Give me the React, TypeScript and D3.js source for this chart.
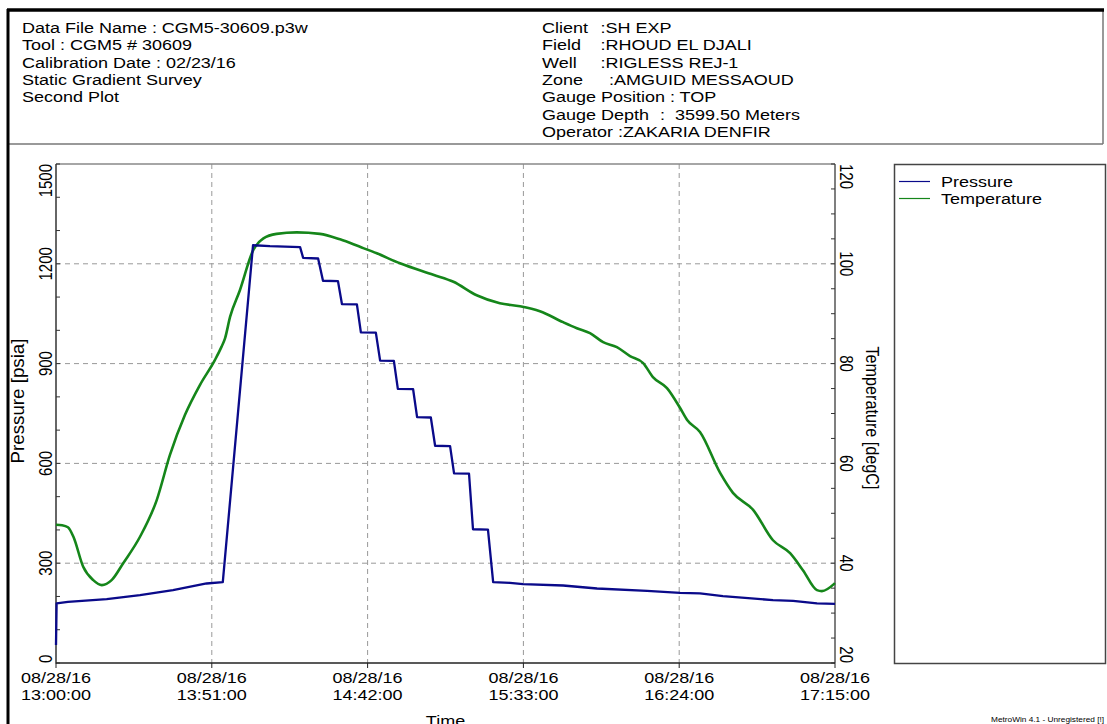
import React from "react";
import * as d3 from "d3";

// ---- Data (minutes after 08/28/16 13:00:00) ----
const pressureMinutes = [0, 0.2, 3.9, 16.6, 27.5, 38.3, 49.3, 54.6, 64.5, 70, 79.9, 80.9, 85.8, 87.4, 92.3, 93.6, 98.5, 99.8, 104.7, 106.1, 110.6, 111.9, 116.9, 118.2, 122.7, 124.1, 129, 130.3, 135.2, 136.5, 141.4, 143.1, 148.6, 152.9, 166, 177.1, 193.5, 204.3, 210.8, 218.3, 234.7, 241.3, 249.1, 255];
const pressureValues = [54, 179, 184, 192, 204, 219, 239, 243, 1256, 1253, 1250, 1218, 1216, 1149, 1148, 1079, 1078, 994, 993, 909, 908, 824, 823, 739, 738, 653, 652, 570, 569, 402, 401, 243, 241, 237, 233, 224, 217, 211, 209, 201, 189, 187, 179, 178];

const temperatureMinutes = [0, 2, 3.9, 5.7, 8.9, 12.2, 15.0, 18.2, 22.0, 27.5, 33.0, 37.3, 42.2, 47.1, 52.0, 54.2, 55.3, 57.0, 60.2, 64.6, 67.9, 72.2, 78.8, 86.4, 93.0, 99.5, 105.0, 112.6, 123.5, 130.1, 137.7, 145.3, 151.9, 158.4, 166, 170.5, 174.8, 179.1, 183.6, 187.9, 192.2, 195.4, 200, 204.3, 206.6, 210.8, 217.4, 221.6, 228.2, 234.7, 240.3, 244.5, 249.1, 250.7, 255];
const temperatureValues = [47.7, 47.6, 47.2, 45.3, 39.3, 36.6, 35.6, 36.6, 40, 45.3, 52.7, 61.7, 69.7, 75.7, 80.7, 83.4, 85.0, 89.4, 94.7, 102.8, 105.1, 106, 106.3, 106, 104.9, 103.4, 102.1, 100.1, 97.8, 96.4, 93.7, 92.1, 91.5, 90.5, 88.3, 87.1, 86.1, 84.3, 83.3, 81.5, 80.1, 77.3, 75.1, 71.1, 68.7, 66.3, 58.1, 54.1, 50.7, 44.6, 42, 38.6, 34.6, 34.4, 36];

const timeTickMinutes = [0, 51, 102, 153, 204, 255];
const timeTickDate = "08/28/16";
const timeTickLabels = ["13:00:00", "13:51:00", "14:42:00", "15:33:00", "16:24:00", "17:15:00"];
const pressureTicks = [0, 300, 600, 900, 1200, 1500];
const temperatureTicks = [20, 40, 60, 80, 100, 120];

const headerLeft = ["Data File Name : CGM5-30609.p3w", "Tool : CGM5 # 30609", "Calibration Date : 02/23/16", "Static Gradient Survey", "Second Plot"];
const headerRightLabels = ["Client", "Field", "Well", "Zone", "Gauge Position : TOP", "Gauge Depth", "Operator :ZAKARIA DENFIR"];
const headerRightValues = [":SH EXP", ":RHOUD EL DJALI", ":RIGLESS REJ-1", ":AMGUID MESSAOUD", "", ":  3599.50 Meters", ""];
const headerRightValueX = [600.5, 600.5, 600.5, 609, 0, 660, 0];

const seriesNames = ["Pressure", "Temperature"];
const seriesColors = ["#0a0a8a", "#15861a"];

const T0 = new Date(2016, 7, 28, 13, 0, 0).getTime();
const toDate = (m: number) => new Date(T0 + m * 60000);

const FONT = "'Liberation Sans', Arial, sans-serif";
const SX = 1.2;

function T(props: { x: number; y: number; rot?: number; anchor?: string; size?: number; children: any; fill?: string; sy?: number }) {
  const { x, y, rot = 0, anchor = "start", size = 15, children, fill = "#000", sy = 1 } = props;
  return (
    <g transform={`translate(${x},${y}) scale(${SX},${sy}) rotate(${rot})`}>
      <text textAnchor={anchor as any} fontSize={size} fontFamily={FONT} fill={fill} style={{ whiteSpace: "pre" }}>
        {children}
      </text>
    </g>
  );
}

export default function App() {
  const L = 56, R = 835, TOP = 164, B = 663;
  const x = d3.scaleTime().domain([toDate(0), toDate(255)]).range([L, R]);
  const yP = d3.scaleLinear().domain([0, 1500]).range([B, TOP]);
  const yT = d3.scaleLinear().domain([20, 120]).range([B, TOP]);

  const pData = pressureMinutes.map((m, i) => [toDate(m), pressureValues[i]] as [Date, number]);
  const tData = temperatureMinutes.map((m, i) => [toDate(m), temperatureValues[i]] as [Date, number]);

  const pLine = d3.line<[Date, number]>().x((d) => x(d[0])).y((d) => yP(d[1]));
  const tLine = d3.line<[Date, number]>().x((d) => x(d[0])).y((d) => yT(d[1])).curve(d3.curveMonotoneX);

  const minorP = d3.range(0, 1501, 100);
  const minorT = d3.range(20, 121, 5);

  return (
    <svg width={1107} height={724} style={{ position: "absolute", left: 0, top: 0, background: "#fff" }}>
      {/* frame */}
      <line x1={1103} y1={10} x2={1103} y2={144} stroke="#777" strokeWidth={1.5} />
      <line x1={8} y1={144} x2={1103} y2={144} stroke="#777" strokeWidth={1.5} />
      <line x1={7} y1={10} x2={1104} y2={10} stroke="#000" strokeWidth={3.5} />
      <line x1={8} y1={9} x2={8} y2={724} stroke="#000" strokeWidth={3} />

      {/* header */}
      {headerLeft.map((s, i) => (
        <T key={"hl" + i} x={22} y={33 + i * 17.3}>{s}</T>
      ))}
      {headerRightLabels.map((s, i) => (
        <T key={"hr" + i} x={542} y={33 + i * 17.3}>{s}</T>
      ))}
      {headerRightValues.map((s, i) =>
        s ? <T key={"hv" + i} x={headerRightValueX[i]} y={33 + i * 17.3}>{s}</T> : null
      )}

      {/* grid */}
      {pressureTicks.filter((v) => v > 0 && v < 1500).map((v) => (
        <line key={"gp" + v} x1={L} x2={R} y1={yP(v)} y2={yP(v)} stroke="#999" strokeDasharray="5,4" />
      ))}
      {timeTickMinutes.slice(1, -1).map((m) => (
        <line key={"gx" + m} x1={x(toDate(m))} x2={x(toDate(m))} y1={TOP} y2={B} stroke="#999" strokeDasharray="5,4" />
      ))}

      {/* plot frame */}
      <line x1={L} x2={R} y1={TOP} y2={TOP} stroke="#888" strokeWidth={1.5} />
      <line x1={R} x2={R} y1={TOP} y2={B} stroke="#555" strokeWidth={1.5} />
      <line x1={L} x2={L} y1={TOP} y2={B + 0.5} stroke="#333" strokeWidth={1.5} />
      <line x1={L} x2={R} y1={B} y2={B} stroke="#222" strokeWidth={1.5} />

      {/* ticks */}
      {minorP.map((v) => (
        <line key={"tp" + v} x1={L} x2={L + 4} y1={yP(v)} y2={yP(v)} stroke="#333" />
      ))}
      {minorT.map((v) => (
        <line key={"tt" + v} x1={R - 4} x2={R} y1={yT(v)} y2={yT(v)} stroke="#333" />
      ))}
      {timeTickMinutes.map((m) => (
        <line key={"tx" + m} x1={x(toDate(m))} x2={x(toDate(m))} y1={B} y2={B + 5} stroke="#222" />
      ))}

      {/* tick labels */}
      {pressureTicks.map((v, i) => (
        <T key={"lp" + v} x={52} y={yP(v)} rot={-90} anchor={i === 0 ? "start" : i === pressureTicks.length - 1 ? "end" : "middle"}>
          {String(v)}
        </T>
      ))}
      {temperatureTicks.map((v, i) => (
        <T key={"lt" + v} x={840} y={yT(v)} rot={90} anchor={i === 0 ? "end" : i === temperatureTicks.length - 1 ? "start" : "middle"}>
          {String(v)}
        </T>
      ))}
      {timeTickMinutes.map((m, i) => (
        <g key={"lx" + m}>
          <T x={x(toDate(m))} y={683} anchor="middle">{timeTickDate}</T>
          <T x={x(toDate(m))} y={699.5} anchor="middle">{timeTickLabels[i]}</T>
        </g>
      ))}

      {/* axis titles */}
      <T x={24} y={401} rot={-90} anchor="middle" sy={1.25}>Pressure [psia]</T>
      <T x={866} y={418} rot={90} anchor="middle" sy={1.08}>Temperature [degC]</T>
      <T x={(L + R) / 2} y={726} anchor="middle">Time</T>

      {/* series */}
      <path d={tLine(tData) || ""} fill="none" stroke={seriesColors[1]} strokeWidth={2.6} strokeLinejoin="round" />
      <path d={pLine(pData) || ""} fill="none" stroke={seriesColors[0]} strokeWidth={2.3} strokeLinejoin="round" />

      {/* legend */}
      <rect x={894.5} y={164.5} width={211} height={499} fill="none" stroke="#444" strokeWidth={1.5} />
      {seriesNames.map((n, i) => (
        <g key={n}>
          <line x1={899} x2={930} y1={181.5 + i * 17} y2={181.5 + i * 17} stroke={seriesColors[i]} strokeWidth={1.2} />
          <T x={941} y={187 + i * 17}>{n}</T>
        </g>
      ))}

      <T x={991} y={722} size={6.9}>MetroWin 4.1 - Unregistered [!]</T>
    </svg>
  );
}
